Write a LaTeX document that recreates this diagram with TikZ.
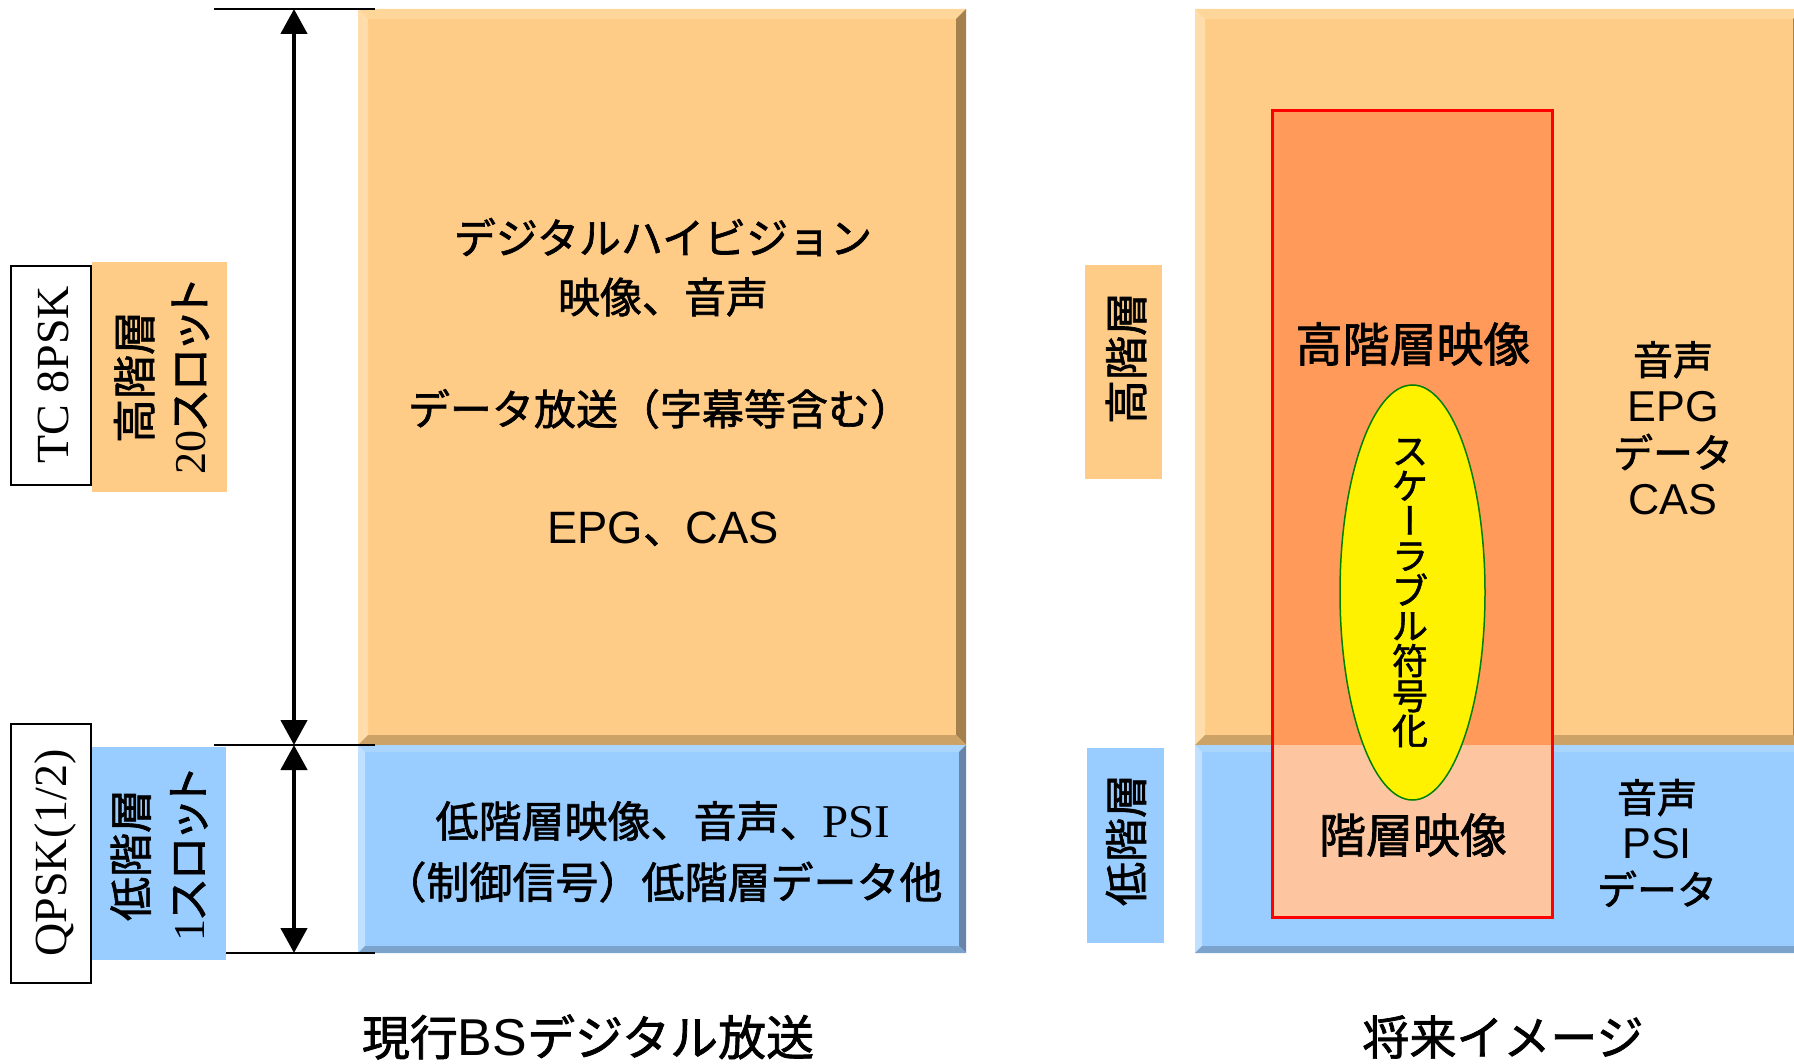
\documentclass[tikz,border=0pt]{standalone}
\usepackage{fontspec}
\usepackage{graphicx}
\setmainfont{Liberation Serif}
\newfontfamily\jp[FakeBold=1.5]{Noto Sans CJK JP}
\newfontfamily\jpp[RawFeature=+palt,FakeBold=1.5]{Noto Sans CJK JP}
\newfontfamily\jpv[RawFeature=+vert,FakeBold=1.5]{Noto Sans CJK JP}
\newfontfamily\lsans[Scale=1.08]{Liberation Sans}
\usetikzlibrary{arrows.meta,shapes.geometric}
\definecolor{org}{HTML}{FFCC88}
\definecolor{orgT}{HTML}{FFD699}
\definecolor{orgL}{HTML}{FFDDAA}
\definecolor{orgR}{HTML}{A4804F}
\definecolor{orgB}{HTML}{CCA266}
\definecolor{blu}{HTML}{99CCFF}
\definecolor{bluT}{HTML}{AAD5FF}
\definecolor{bluL}{HTML}{BFE0FF}
\definecolor{bluR}{HTML}{6685A8}
\definecolor{bluB}{HTML}{7BA3CC}
\definecolor{hiv}{HTML}{FF9A5A}
\definecolor{lov}{HTML}{FDC6A0}
\definecolor{egreen}{HTML}{008000}
\newcommand\fs[2]{\fontsize{#1}{#2}\selectfont}
\newcommand\bevbox[7]{%
  \node[fill=#6, inner sep=0pt, outer sep=0pt, anchor=north west,
        minimum width={(#4-#2)*1pt}, minimum height={(#5-#3)*1pt}] (#1) at (#2,#3) {};
  \fill[#6T] (#1.north west) -- (#1.north east) -- ([shift={(-#7,#7)}]#1.north east) -- ([shift={(#7,#7)}]#1.north west) -- cycle;
  \fill[#6L] (#1.north west) -- ([shift={(#7,#7)}]#1.north west) -- ([shift={(#7,-#7)}]#1.south west) -- (#1.south west) -- cycle;
  \fill[#6R] (#1.north east) -- (#1.south east) -- ([shift={(-#7,-#7)}]#1.south east) -- ([shift={(-#7,#7)}]#1.north east) -- cycle;
  \fill[#6B] (#1.south west) -- (#1.south east) -- ([shift={(-#7,-#7)}]#1.south east) -- ([shift={(#7,-#7)}]#1.south west) -- cycle;
}
\begin{document}
\begin{tikzpicture}[x=1pt,y=-1pt,
  tick/.style={line width=1.5pt},
  dimarr/.style={line width=4.5pt,{Triangle[width=26pt,length=25pt]}-{Triangle[width=26pt,length=25pt]}},
  plate/.style={inner sep=0pt, outer sep=0pt},
  txt/.style={inner sep=0pt, outer sep=0pt, align=center}]
\useasboundingbox (0,0) rectangle (1794,1064);
\clip (0,0) rectangle (1794,1064);

% ---------- left: current BS ----------
\bevbox{hi}{358}{9}{966}{745}{org}{10}
\bevbox{lo}{358}{745}{966}{953}{blu}{7}

\node[plate, draw, line width=1.5pt, fill=white, minimum width=80pt, minimum height=219pt] (tcbox) at (51,375.5) {};
\node[plate, fill=org, minimum width=135pt, minimum height=230pt] (hibox) at (159.5,377) {};
\node[plate, draw, line width=1.5pt, fill=white, minimum width=80pt, minimum height=259pt] (qbox) at (51,853.5) {};
\node[plate, fill=blu, minimum width=134pt, minimum height=213pt] (lobox) at (159,853.5) {};

\node[txt, rotate=90, font=\fs{46}{50}] (tct) at (53,375) {TC 8PSK};
\node[txt, rotate=90, font=\fs{46}{50}] (qt) at (55,853) {QPSK(1/2)};
\node[txt, rotate=90, font={\jpp\fs{44}{55}}] (hit) at (161.5,377) {高階層\\{\rmfamily 20}スロット};
\node[txt, rotate=90, font={\jpp\fs{44}{57}}] (lot) at (159,855) {低階層\\{\rmfamily 1}スロット};

\coordinate (t1a) at (214,9);   \coordinate (t1b) at (375,9);
\coordinate (t2a) at (214,745); \coordinate (t2b) at (375,745);
\coordinate (t3a) at (226,953); \coordinate (t3b) at (375,953);
\coordinate (a1) at (294,9); \coordinate (a2) at (294,745); \coordinate (a3) at (294,953);
\draw[tick] (t1a) -- (t1b);
\draw[tick] (t2a) -- (t2b);
\draw[tick] (t3a) -- (t3b);
\draw[dimarr] (a1) -- (a2);
\draw[dimarr] (a2) -- (a3);

\node[txt, font={\jp\fs{42}{50}}] (m1) at (663,237) {デジタルハイビジョン};
\node[txt, font={\jp\fs{42}{50}}] (m2) at (663,297) {映像、音声};
\node[txt, font={\jp\fs{42}{50}}] (m3) at (660,409) {データ放送（字幕等含む）};
\node[txt, font={\jp\fs{42}{50}}] (m4) at (663,529) {{\lsans EPG}、{\lsans CAS}};

\node[txt, font={\jp\fs{43}{50}}] (b1) at (663,821) {低階層映像、音声、{\rmfamily\fs{47}{50}PSI}};
\node[txt, font={\jp\fs{43}{50}}] (b2) at (663,882) {（制御信号）低階層データ他};

\node[txt, font={\jp\fs{48}{50}}] (cap1) at (588,1037) {現行{\lsans BS}デジタル放送};
\node[txt, font={\jp\fs{47}{50}}] (cap2) at (1503,1037) {将来イメージ};

% ---------- right: future ----------
\bevbox{rhi}{1195}{9}{1803}{745}{org}{10}
\bevbox{rlo}{1195}{745}{1803}{953}{blu}{7}
\node[plate, fill=org, minimum width=77pt, minimum height=214pt] (rhibox) at (1123.5,372) {};
\node[plate, fill=blu, minimum width=77pt, minimum height=195pt] (rlobox) at (1125.5,845.5) {};
\node[txt, rotate=90, font={\jp\fs{44}{50}}] (rhit) at (1126,358) {高階層};
\node[txt, rotate=90, font={\jp\fs{44}{50}}] (rlot) at (1126,840) {低階層};

\node[plate, fill=lov, minimum width=280pt, minimum height=806pt] (scal) at (1412,514) {};
\fill[hiv] (scal.north west) rectangle (scal.east |- rhi.south);
\draw[red, line width=3pt] (scal.north west) rectangle (scal.south east);

\node[ellipse, draw=egreen, line width=1.5pt, fill=yellow, inner sep=0pt,
      minimum width=145pt, minimum height=415pt] (ell) at (1412.5,592.5) {};
\node[txt, font={\jp\fs{36}{35}\lineskiplimit=-100pt}] (ellt) at (1410,593)
  {ス\\ケ\\{\jpv ー}\\ラ\\ブ\\ル\\符\\号\\化};

\node[txt, font={\jp\fs{47}{50}}] (hv) at (1413,344) {高階層映像};
\node[txt, font={\jp\fs{47}{50}}] (lv) at (1413,835) {階層映像};
\node[txt, font={\jp\fs{40}{46.5}}] (rc1) at (1673,428) {音声\\{\lsans EPG}\\データ\\{\lsans CAS}};
\node[txt, font={\jp\fs{40}{46}}] (rc2) at (1657,843) {音声\\{\lsans PSI}\\データ};
\end{tikzpicture}
\end{document}
